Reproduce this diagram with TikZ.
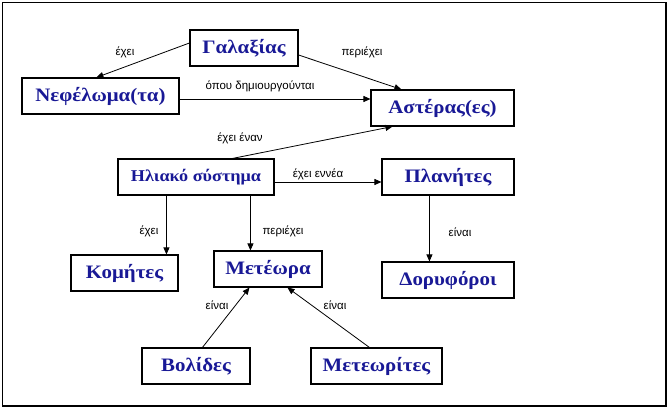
\documentclass[tikz,border=0pt]{standalone}
\usepackage{fontspec}
\setmainfont{Liberation Serif}
\newfontfamily\labfont{Liberation Sans}
\newfontfamily\boxfont[FakeStretch=1.1]{Liberation Serif Bold}
\usetikzlibrary{arrows.meta,calc}
\definecolor{nodeblue}{RGB}{25,25,150}
\tikzset{
  box/.style={draw=black, line width=1.1pt, rectangle, inner sep=0pt, minimum height=36pt,
    font=\boxfont\fontsize{19}{22}\selectfont, text=nodeblue},
  lab/.style={inner sep=0pt, font=\labfont\fontsize{11.5}{13}\selectfont},
  conn/.style={draw=black, line width=0.8pt, -{Triangle[length=7pt,width=6pt]}}
}
\begin{document}
\begin{tikzpicture}[x=1pt,y=-1pt]
\useasboundingbox (0,0) rectangle (670,409);
\draw[line width=1.5pt] (2.5,2.5) rectangle (666,406);

\node[box, minimum width=108pt] (gal) at (244,48) {Γαλαξίας};
\node[box, minimum width=157pt] (nef) at (100.5,96) {Νεφέλωμα(τα)};
\node[box, minimum width=143pt] (ast) at (442.5,108) {Αστέρας(ες)};
\node[box, minimum width=156pt, font=\boxfont\fontsize{16.5}{20}\selectfont] (ili) at (196,177) {Ηλιακό σύστημα};
\node[box, minimum width=132pt] (pla) at (448,177) {Πλανήτες};
\node[box, minimum width=132pt] (dor) at (448,280) {Δορυφόροι};
\node[box, minimum width=108pt] (met) at (268,269) {Μετέωρα};
\node[box, minimum width=107pt] (kom) at (124.5,273) {Κομήτες};
\node[box, minimum width=108pt] (vol) at (196,366) {Βολίδες};
\node[box, minimum width=131pt] (mts) at (376.5,366) {Μετεωρίτες};

\coordinate (g1) at ($(gal.west)+(0,-5)$);
\coordinate (n1) at ($(nef.north west)+(75,0)$);
\draw[conn] (g1) -- (n1);
\coordinate (g2) at ($(gal.east)+(0,7)$);
\coordinate (a1) at ($(ast.north west)+(31,0)$);
\draw[conn] (g2) -- (a1);
\coordinate (n2) at ($(nef.east)+(0,3)$);
\draw[conn] (n2) -- (n2 -| ast.west);
\coordinate (i1) at ($(ili.north west)+(115,0)$);
\coordinate (a2) at ($(ast.south west)+(22,0)$);
\draw[conn] (i1) -- (a2);
\coordinate (i2) at ($(ili.east)+(0,5)$);
\draw[conn] (i2) -- (i2 -| pla.west);
\coordinate (i3) at ($(ili.south west)+(49,0)$);
\draw[conn] (i3) -- (i3 |- kom.north);
\coordinate (i4) at ($(ili.south west)+(133,0)$);
\draw[conn] (i4) -- (i4 |- met.north);
\coordinate (p1) at ($(pla.south west)+(48,0)$);
\draw[conn] (p1) -- (p1 |- dor.north);
\coordinate (v1) at ($(vol.north west)+(61,0)$);
\coordinate (m1) at ($(met.south west)+(36,0)$);
\draw[conn] (v1) -- (m1);
\coordinate (t1) at ($(mts.north west)+(59,0)$);
\coordinate (m2) at ($(met.south west)+(74,0)$);
\draw[conn] (t1) -- (m2);

\node[lab] (l1) at (125,52) {έχει};
\node[lab] (l2) at (362,52) {περιέχει};
\node[lab] (l3) at (260,86) {όπου δημιουργούνται};
\node[lab] (l4) at (240,138) {έχει έναν};
\node[lab] (l5) at (318,174) {έχει εννέα};
\node[lab] (l6) at (149,231) {έχει};
\node[lab] (l7) at (283,231) {περιέχει};
\node[lab] (l8) at (460,232) {είναι};
\node[lab] (l9) at (217,305) {είναι};
\node[lab] (l10) at (335,305) {είναι};
\end{tikzpicture}
\end{document}
